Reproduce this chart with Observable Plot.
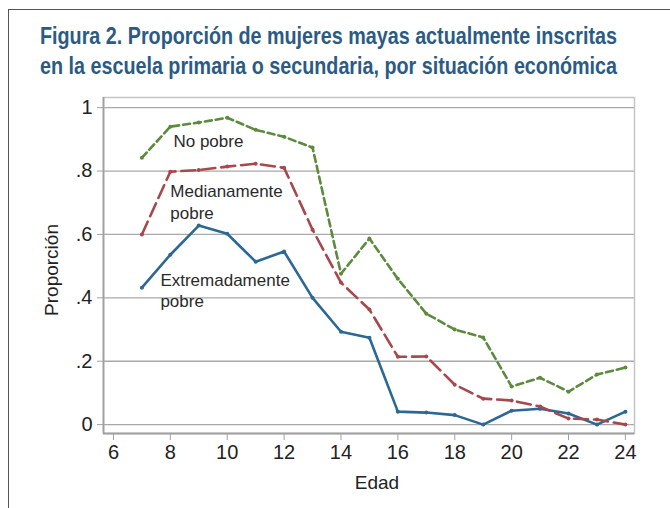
<!DOCTYPE html>
<html><head><meta charset="utf-8">
<script src="https://cdn.jsdelivr.net/npm/d3@7"></script>
<script src="https://cdn.jsdelivr.net/npm/@observablehq/plot@0.6"></script>
<style>
html,body{margin:0;padding:0;background:#fff;width:670px;height:508px;overflow:hidden;}
#border{position:absolute;left:8px;top:9px;width:720px;height:560px;border-left:1.5px solid #555;border-top:1.5px solid #555;}
#title{position:absolute;left:40px;top:21px;font-family:"Liberation Sans",Arial,sans-serif;font-weight:bold;font-size:24px;line-height:30px;color:#2b5b85;white-space:nowrap;transform-origin:0 0;}
#title div{display:block;}
#chart{position:absolute;left:0;top:90px;}
</style></head>
<body>
<div id="border"></div>
<div id="title"><div id="t1">Figura 2. Proporción de mujeres mayas actualmente inscritas</div><div id="t2">en la escuela primaria o secundaria, por situación económica</div></div>
<div id="chart"></div>
<script>
const ages = [7,8,9,10,11,12,13,14,15,16,17,18,19,20,21,22,23,24];
const extremo = [0.432,0.536,0.628,0.602,0.514,0.546,0.400,0.293,0.274,0.041,0.038,0.030,0.000,0.044,0.050,0.035,0.000,0.041];
const mediano = [0.600,0.798,0.803,0.814,0.823,0.810,0.615,0.448,0.363,0.214,0.215,0.126,0.082,0.076,0.057,0.019,0.016,0.000];
const nopobre = [0.842,0.940,0.953,0.968,0.930,0.908,0.874,0.476,0.587,0.460,0.350,0.300,0.275,0.120,0.148,0.104,0.158,0.180];
const seriesNames = ["Extremadamente pobre","Medianamente pobre","No pobre"];
const xTicks = [6,8,10,12,14,16,18,20,22,24];
const yTicks = [0,0.2,0.4,0.6,0.8,1];
const yTickLabels = ["0",".2",".4",".6",".8","1"];
const labelTexts = ["No pobre","Medianamente\npobre","Extremadamente\npobre"];
const labelX = [8.11,8.0,7.65];
const labelY = [0.896,0.705,0.425];

// condense the title to the reference's narrow face
const title = document.getElementById("title");
const w = document.getElementById("t1").getBoundingClientRect().width;
title.style.transform = `scaleX(${577 / w})`;

const xDomain = [5.65,24.32];
const yDomain = [-0.028,1.032];
const colors = ["#2b6893","#a5494d","#5d8b3e"];
const dashes = [null,"14,6","7,4"];
const vals = [extremo,mediano,nopobre];
const tickFont = "Liberation Sans, Arial, sans-serif";

const marks = [
  Plot.gridY(yTicks,{stroke:"#a8a8a8",strokeOpacity:1,strokeWidth:1.3}),
  Plot.frame({stroke:"#c4c4c4",strokeWidth:1.5}),
  Plot.ruleX([xDomain[0]],{stroke:"#a0a0a0",strokeWidth:1.8}),
  Plot.ruleY([yDomain[0]],{stroke:"#a0a0a0",strokeWidth:1.8}),
  Plot.axisX(xTicks,{tickSize:7,stroke:"#a0a0a0",tickPadding:4,fontSize:20,fill:"#222",fontFamily:tickFont,label:null}),
  Plot.axisY(yTicks,{tickSize:6,stroke:"#a0a0a0",tickPadding:5,fontSize:20,fill:"#222",fontFamily:tickFont,tickFormat:(d,i)=>yTickLabels[i],label:null})
];
vals.forEach((v,k)=>{
  const data = ages.map((a,i)=>({age:a,val:v[i]}));
  marks.push(Plot.line(data,{x:"age",y:"val",stroke:colors[k],strokeWidth:2.6,strokeDasharray:dashes[k],strokeLinejoin:"round"}));
  marks.push(Plot.dot(data,{x:"age",y:"val",fill:colors[k],r:2}));
});
marks.push(Plot.text(labelTexts,{x:(d,i)=>labelX[i],y:(d,i)=>labelY[i],text:d=>d,textAnchor:"start",fontSize:17,fill:"#2a2a2a",lineHeight:1.25,fontFamily:"Liberation Sans, Arial, sans-serif"}));

const plot = Plot.plot({
  width:670,height:418,
  marginTop:7,marginBottom:75,marginLeft:103,marginRight:36,
  x:{domain:xDomain},
  y:{domain:yDomain},
  style:{background:"transparent",fontFamily:"Liberation Sans, Arial, sans-serif"},
  marks
});
document.getElementById("chart").appendChild(plot);
const svg = d3.select(plot);
svg.append("text").attr("x",377).attr("y",399).attr("text-anchor","middle")
  .attr("font-size",19).attr("fill","#222").attr("font-family","Liberation Sans, Arial, sans-serif").text("Edad");
svg.append("text").attr("transform","translate(58,180) rotate(-90)").attr("text-anchor","middle")
  .attr("font-size",19).attr("fill","#222").attr("font-family","Liberation Sans, Arial, sans-serif").text("Proporción");
</script>
</body></html>
